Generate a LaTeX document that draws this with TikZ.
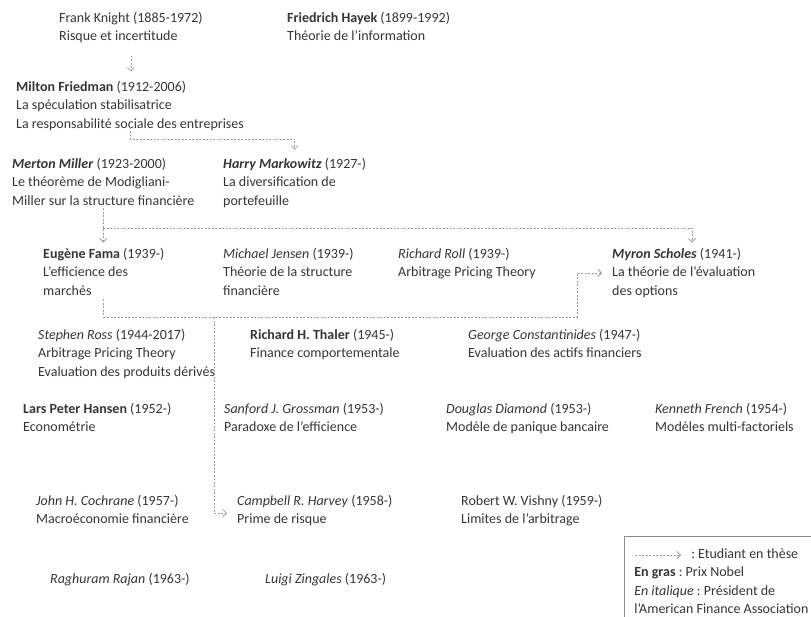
\documentclass[tikz,border=0pt]{standalone}
\usepackage{fontspec}
\setmainfont{Carlito}
\usetikzlibrary{arrows.meta}
\definecolor{texte}{HTML}{363636}
\definecolor{lien}{HTML}{9C9C9C}
\frenchspacing
\begin{document}
\begin{tikzpicture}[x=1pt, y=-1pt]
\tikzstyle{eco}=[anchor=base west, align=left, inner sep=0pt, text=texte,
                 font=\fontsize{14}{18.5}\selectfont]
\tikzstyle{stu}=[lien, line width=0.8pt, dash pattern=on 2pt off 1.5pt,
                 -{Straight Barb[length=3.5pt, width=7pt]}]
\tikzstyle{leg}=[anchor=north west, draw=lien!90!black, line width=0.6pt,
                 text width=200pt, align=flush left, inner xsep=10pt, inner ysep=12pt,
                 text=texte, font=\fontsize{14}{18.5}\selectfont]
\useasboundingbox[fill=white] (0,0) rectangle (811,616);
%generation 1 (base = last line)
\node[eco] (knight) at (59,40.5) {Frank Knight (1885-1972)\\Risque et incertitude};
\node[eco] (hayek) at (287,40.5) {\textbf{Friedrich Hayek} (1899-1992)\\Théorie de l’information};
\node[eco] (friedman) at (16,128) {\textbf{Milton Friedman} (1912-2006)\\La spéculation stabilisatrice\\La responsabilité sociale des entreprises};
\node[eco] (miller) at (12,205) {\textbf{\textit{Merton Miller}} (1923-2000)\\Le théorème de Modigliani-\\Miller sur la structure financière};
\node[eco] (markowitz) at (223,205) {\textbf{\textit{Harry Markowitz}} (1927-)\\La diversification de\\portefeuille};
%generation 2
\node[eco] (fama) at (43,295) {\textbf{Eugène Fama} (1939-)\\L’efficience des\\marchés};
\node[eco] (jensen) at (223,295) {\textit{Michael Jensen} (1939-)\\Théorie de la structure\\financière};
\node[eco] (roll) at (398,276.5) {\textit{Richard Roll} (1939-)\\Arbitrage Pricing Theory};
\node[eco] (scholes) at (612,295) {\textbf{\textit{Myron Scholes}} (1941-)\\La théorie de l’évaluation\\des options};
%generation 3
\node[eco] (ross) at (38,376) {\textit{Stephen Ross} (1944-2017)\\Arbitrage Pricing Theory\\Evaluation des produits dérivés};
\node[eco] (thaler) at (250,357.5) {\textbf{Richard H. Thaler} (1945-)\\Finance comportementale};
\node[eco] (constantinides) at (468,357.5) {\textit{George Constantinides} (1947-)\\Evaluation des actifs financiers};
\node[eco] (hansen) at (23,431.5) {\textbf{Lars Peter Hansen} (1952-)\\Econométrie};
\node[eco] (grossman) at (224,431.5) {\textit{Sanford J. Grossman} (1953-)\\Paradoxe de l’efficience};
\node[eco] (diamond) at (446,431.5) {\textit{Douglas Diamond} (1953-)\\Modèle de panique bancaire};
\node[eco] (french) at (655,431.5) {\textit{Kenneth French} (1954-)\\Modèles multi-factoriels};
\node[eco] (cochrane) at (36,523.5) {\textit{John H. Cochrane} (1957-)\\Macroéconomie financière};
\node[eco] (harvey) at (237,523.5) {\textit{Campbell R. Harvey} (1958-)\\Prime de risque};
\node[eco] (vishny) at (461,523.5) {Robert W. Vishny (1959-)\\Limites de l’arbitrage};
\node[eco] (rajan) at (50,583) {\textit{Raghuram Rajan} (1963-)};
\node[eco] (zingales) at (265,583) {\textit{Luigi Zingales} (1963-)};
%legend
\node[leg] (legende) at (624,536) {\hspace*{57pt}: Etudiant en thèse\\\textbf{En gras} : Prix Nobel\\\textit{En italique} : Président de\\l’American Finance Association};
\coordinate (leg1) at (635,555);
\coordinate (leg2) at (681,555);
\draw[stu] (leg1) -- (leg2);
%thesis links
\coordinate (fm) at (0,139);
\coordinate (ms) at (692,228);
\coordinate (fs) at (577,317);
\coordinate (fs2) at (577,273);
\coordinate (fh) at (214,317);
\coordinate (fh2) at (214,513);
\draw[stu, shorten <=13pt, shorten >=9pt] (knight.south) -- (knight.south |- friedman.north);
\draw[stu, shorten <=-3pt, shorten >=8pt] (friedman.south) -- (friedman.south |- fm) -| (markowitz.north);
\draw[stu, shorten <=3pt, shorten >=5pt] (miller.south) -- (miller.south |- fama.north);
\draw[stu, shorten >=5pt] (ms -| miller.south) -- (ms) -- (ms |- scholes.north);
\draw[stu, shorten <=4pt, shorten >=10pt] (fama.south) |- (fs) -- (fs2) -- (fs2 -| scholes.west);
\draw[stu, shorten >=10pt] (fh) -- (fh2) -- (fh2 -| harvey.west);
\end{tikzpicture}
\end{document}
